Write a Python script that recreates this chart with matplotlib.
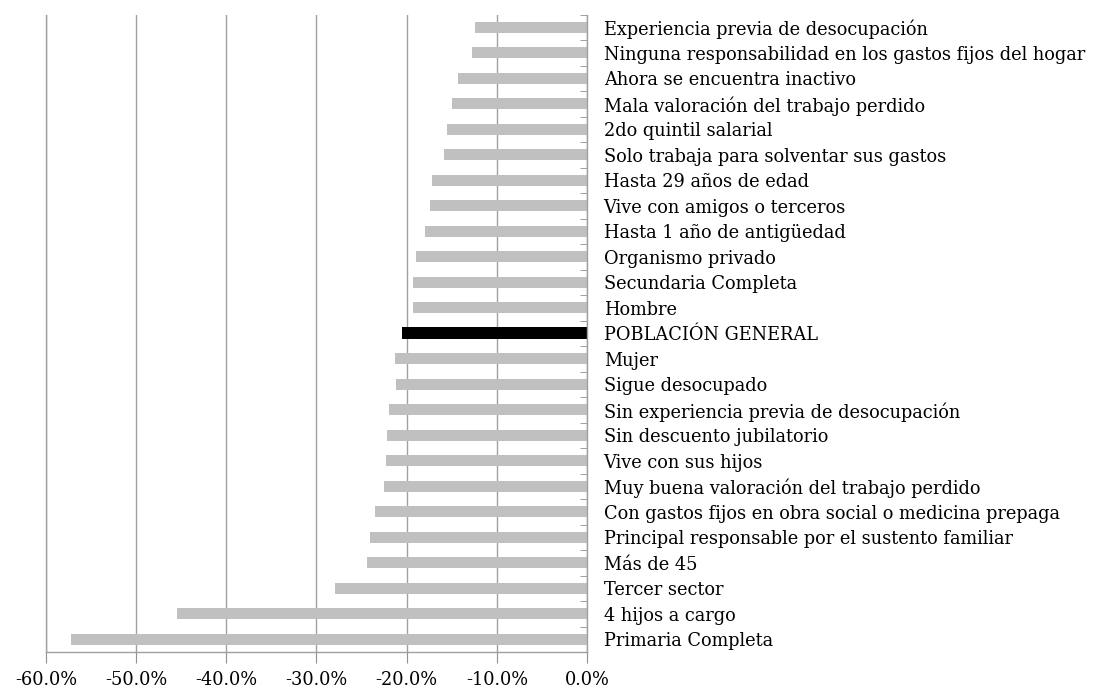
import matplotlib.pyplot as plt
import numpy as np
from matplotlib.ticker import FuncFormatter

# categories, top to bottom
categorias = [
    "Experiencia previa de desocupación",
    "Ninguna responsabilidad en los gastos fijos del hogar",
    "Ahora se encuentra inactivo",
    "Mala valoración del trabajo perdido",
    "2do quintil salarial",
    "Solo trabaja para solventar sus gastos",
    "Hasta 29 años de edad",
    "Vive con amigos o terceros",
    "Hasta 1 año de antigüedad",
    "Organismo privado",
    "Secundaria Completa",
    "Hombre",
    "POBLACIÓN GENERAL",
    "Mujer",
    "Sigue desocupado",
    "Sin experiencia previa de desocupación",
    "Sin descuento jubilatorio",
    "Vive con sus hijos",
    "Muy buena valoración del trabajo perdido",
    "Con gastos fijos en obra social o medicina prepaga",
    "Principal responsable por el sustento familiar",
    "Más de 45",
    "Tercer sector",
    "4 hijos a cargo",
    "Primaria Completa",
]
valores = [
    -12.4, -12.7, -14.3, -15.0, -15.5, -15.9, -17.2, -17.4, -18.0, -19.0,
    -19.3, -19.3, -20.5, -21.3, -21.2, -22.0, -22.2, -22.3, -22.5, -23.5,
    -24.1, -24.4, -28.0, -45.5, -57.2,
]
destacado = "POBLACIÓN GENERAL"
ticks_x = [-0.6, -0.5, -0.4, -0.3, -0.2, -0.1, 0.0]

plt.rcParams["font.family"] = ["DejaVu Serif"]

fig = plt.figure(figsize=(10.98, 6.88), dpi=100)
ax = fig.add_axes([0.0419, 0.0523, 0.4927, 0.9263])

y = np.arange(len(categorias))
vals = np.array(valores) / 100
colores = ["black" if c == destacado else "#c0c0c0" for c in categorias]
alturas = [0.47 if c == destacado else 0.43 for c in categorias]
ax.barh(y, vals, height=alturas, color=colores, zorder=2)

ax.set_xlim(-0.6, 0.0)
ax.set_ylim(len(categorias) - 0.5, -0.5)

ax.set_xticks(ticks_x)
ax.xaxis.set_major_formatter(FuncFormatter(lambda v, p: f"{v * 100:.1f}%"))
ax.grid(axis="x", color="#a0a0a0", linewidth=1, zorder=1)

ax.yaxis.tick_right()
ax.set_yticks(y)
ax.set_yticklabels(categorias)
ax.set_yticks(np.arange(len(categorias) + 1) - 0.5, minor=True)
ax.tick_params(axis="y", which="major", length=0, pad=12, labelsize=12.8)
ax.tick_params(axis="y", which="minor", direction="in", length=5,
               color="#909090", right=True, left=False)
ax.tick_params(axis="x", length=8, color="#909090", labelsize=12.8, pad=6)

for s in ["top"]:
    ax.spines[s].set_visible(False)
for s in ["left", "right", "bottom"]:
    ax.spines[s].set_color("#a0a0a0")
    ax.spines[s].set_linewidth(1)

fig.savefig("out.png", dpi=100)
